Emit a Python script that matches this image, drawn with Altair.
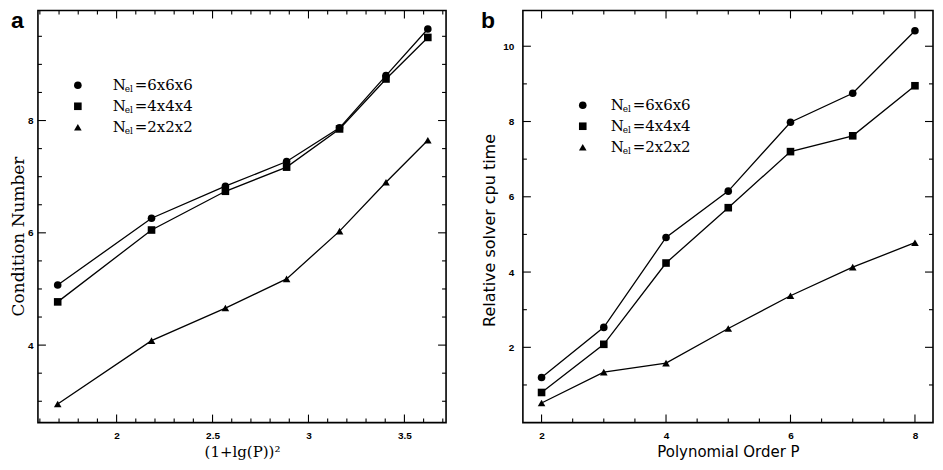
import altair as alt
import pandas as pd

# ---------------- data ----------------
P = [2, 3, 4, 5, 6, 7, 8]
XA = [1.693, 2.182, 2.567, 2.886, 3.162, 3.404, 3.622]          # (1+lg P)^2
SERIES = ["6x6x6", "4x4x4", "2x2x2"]
SHAPES = ["circle", "square", "triangle-up"]

A_666 = [5.07, 6.26, 6.83, 7.27, 7.87, 8.80, 9.63]
A_444 = [4.77, 6.05, 6.74, 7.17, 7.85, 8.74, 9.48]
A_222 = [2.95, 4.08, 4.66, 5.18, 6.03, 6.90, 7.65]

B_666 = [1.20, 2.53, 4.92, 6.15, 7.98, 8.75, 10.41]
B_444 = [0.80, 2.08, 4.24, 5.71, 7.20, 7.62, 8.95]
B_222 = [0.52, 1.34, 1.58, 2.50, 3.37, 4.13, 4.78]

A_X_LABELS = [2, 2.5, 3, 3.5]
A_Y_LABELS = [4, 6, 8]
B_X_LABELS = [2, 4, 6, 8]
B_Y_LABELS = [2, 4, 6, 8, 10]

A_X_MINOR = [1.6, 1.7, 1.8, 1.9, 2.1, 2.2, 2.3, 2.4, 2.6, 2.7, 2.8, 2.9,
             3.1, 3.2, 3.3, 3.4, 3.6, 3.7]
A_Y_MINOR = [3, 3.5, 4.5, 5, 5.5, 6.5, 7, 7.5, 8.5, 9, 9.5]
B_X_MINOR = [2.5, 3, 3.5, 4.5, 5, 5.5, 6.5, 7, 7.5]
B_Y_MINOR = [1, 3, 5, 7, 9]


def long_df(xs, cols):
    rows = []
    for s, ys in zip(SERIES, cols):
        for x, y in zip(xs, ys):
            rows.append({"x": x, "y": y, "s": s})
    return pd.DataFrame(rows)


dfa = long_df(XA, [A_666, A_444, A_222])
dfb = long_df(P, [B_666, B_444, B_222])

LABEL_FONT = "Liberation Sans"
MARK_SIZE = 58


def tick_df(xdom, ydom, W, H, xmaj, xmin, ymaj, ymin, LM=8, Lm=4):
    kx = (xdom[1] - xdom[0]) / W
    ky = (ydom[1] - ydom[0]) / H
    rows = []
    for vals, L in ((xmaj, LM), (xmin, Lm)):
        for v in vals:
            rows.append({"x": v, "x2": v, "y": ydom[0], "y2": ydom[0] + L * ky})
            rows.append({"x": v, "x2": v, "y": ydom[1], "y2": ydom[1] - L * ky})
    for vals, L in ((ymaj, LM), (ymin, Lm)):
        for v in vals:
            rows.append({"x": xdom[0], "x2": xdom[0] + L * kx, "y": v, "y2": v})
            rows.append({"x": xdom[1], "x2": xdom[1] - L * kx, "y": v, "y2": v})
    return pd.DataFrame(rows)


def panel(df, W, H, xdom, ydom, xlab, ylab, xmin, ymin, xtitle, ytitle,
          tfont, xtsize, ytsize, ylabpad, ytpad, ytitle_y, letter, letter_x,
          leg_mx, leg_tx, leg_y, leg_dy):
    X = alt.X("x:Q", scale=alt.Scale(domain=xdom, nice=False, zero=False),
              axis=alt.Axis(values=xlab, format="~r", ticks=False, domain=False,
                            grid=False, labelFont=LABEL_FONT, labelFontWeight="bold",
                            labelFontSize=10, labelPadding=8, labelColor="black",
                            title=xtitle, titleFont=tfont, titleFontSize=xtsize,
                            titleFontWeight="normal", titleColor="black",
                            titlePadding=4))
    Y = alt.Y("y:Q", scale=alt.Scale(domain=ydom, nice=False, zero=False),
              axis=alt.Axis(values=ylab, format="~r", ticks=False, domain=False,
                            grid=False, labelFont=LABEL_FONT, labelFontWeight="bold",
                            labelFontSize=10, labelPadding=ylabpad, labelColor="black",
                            title=ytitle, titleFont=tfont, titleFontSize=ytsize,
                            titleFontWeight="normal", titleColor="black",
                            titlePadding=ytpad, titleY=ytitle_y))

    ticks = alt.Chart(tick_df(xdom, ydom, W, H, xlab, xmin, ylab, ymin)).mark_rule(
        color="black", strokeWidth=1.1).encode(
        x=X, x2=alt.X2("x2:Q"), y=Y, y2=alt.Y2("y2:Q"))

    lines = alt.Chart(df).mark_line(color="black", strokeWidth=1.3).encode(
        x=X, y=Y, detail="s:N")
    pts = alt.Chart(df).mark_point(filled=True, color="black", opacity=1,
                                   size=MARK_SIZE).encode(
        x=X, y=Y,
        shape=alt.Shape("s:N", scale=alt.Scale(domain=SERIES, range=SHAPES), legend=None))

    layers = [lines, pts, ticks]

    one = pd.DataFrame({"k": [0]})
    for i, (lab, shp) in enumerate(zip(SERIES, SHAPES)):
        yy = leg_y + i * leg_dy
        layers.append(alt.Chart(one).mark_point(shape=shp, filled=True, color="black",
                                                opacity=1, size=MARK_SIZE).encode(
            x=alt.value(leg_mx), y=alt.value(yy)))
        layers.append(alt.Chart(one).mark_text(text="N", font="DejaVu Serif", fontSize=15,
                                               align="left", baseline="middle",
                                               color="black").encode(
            x=alt.value(leg_tx), y=alt.value(yy)))
        layers.append(alt.Chart(one).mark_text(text="el", font="DejaVu Serif", fontSize=9,
                                               align="left", baseline="middle",
                                               color="black").encode(
            x=alt.value(leg_tx + 12), y=alt.value(yy + 4)))
        layers.append(alt.Chart(one).mark_text(text="=" + lab, font="DejaVu Serif",
                                               fontSize=15, align="left",
                                               baseline="middle", color="black").encode(
            x=alt.value(leg_tx + 22), y=alt.value(yy)))

    layers.append(alt.Chart(one).mark_text(text=letter, font=LABEL_FONT, fontWeight="bold",
                                           fontSize=23, align="left", baseline="top",
                                           color="black").encode(
        x=alt.value(letter_x), y=alt.value(0)))

    return alt.layer(*layers).properties(width=W, height=H)


pa = panel(dfa, 409, 413, [1.59, 3.717], [2.62, 9.96], A_X_LABELS, A_Y_LABELS,
           A_X_MINOR, A_Y_MINOR, "(1+lg(P))²", "Condition Number", "DejaVu Serif",
           15, 17, 5, 0, 226, "a", -27, 40, 75, 75, 21)
pb = panel(dfb, 411, 413, [1.70, 8.29], [0.0, 10.95], B_X_LABELS, B_Y_LABELS,
           B_X_MINOR, B_Y_MINOR, "Polynomial Order P", "Relative solver cpu time",
           "DejaVu Sans", 15, 16, 9, 5, 220, "b", -42, 60, 88, 95, 21)

chart = alt.hconcat(pa, pb, spacing=32).properties(
    padding={"left": 0, "top": 0, "right": 0, "bottom": 0}
).configure_view(stroke="black", strokeWidth=1.6)

chart.save("out.html", embed_options={"renderer": "svg", "actions": False})
